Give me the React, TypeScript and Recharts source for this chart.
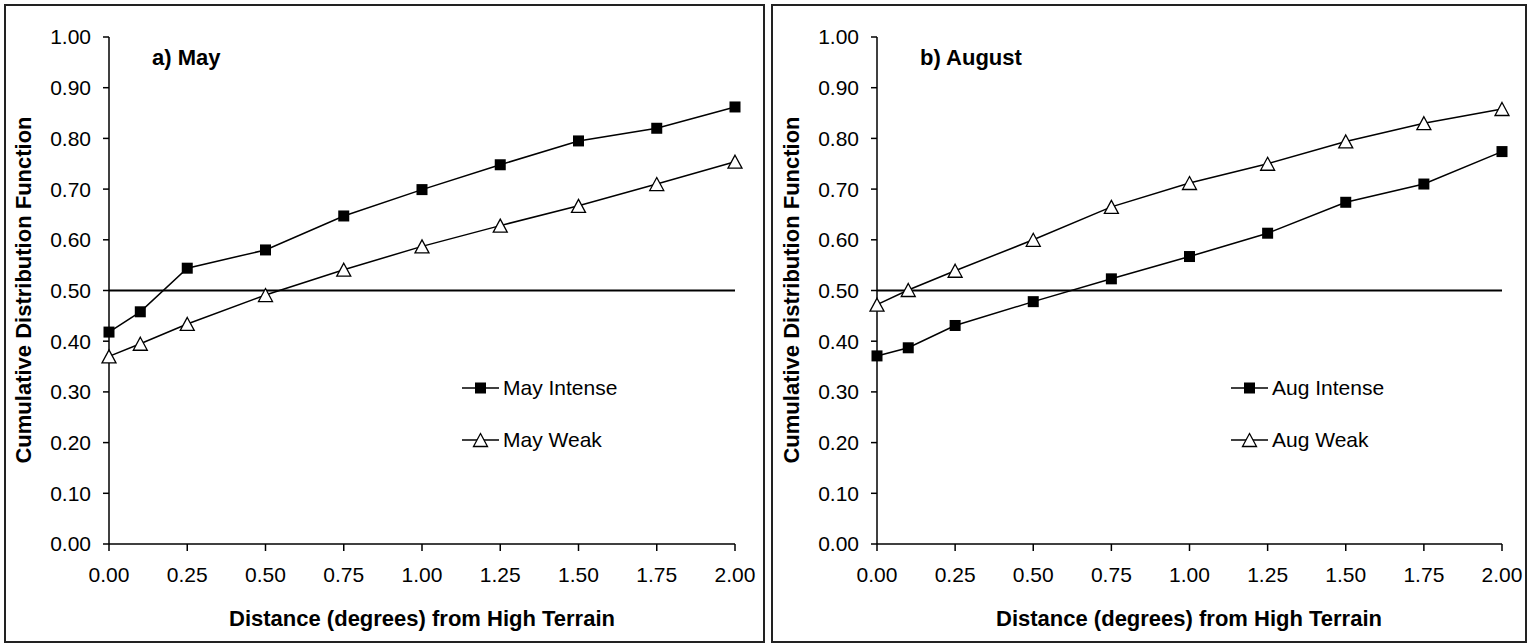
import { LineChart, Line, XAxis, YAxis, ReferenceLine, Legend } from 'recharts'

// distance from high terrain (degrees)
const distance = [0, 0.1, 0.25, 0.5, 0.75, 1.0, 1.25, 1.5, 1.75, 2.0]

const mayIntense = [0.418, 0.458, 0.544, 0.58, 0.647, 0.699, 0.748, 0.795, 0.82, 0.862]
const mayWeak = [0.37, 0.395, 0.434, 0.491, 0.541, 0.587, 0.628, 0.667, 0.71, 0.754]
const augIntense = [0.371, 0.387, 0.431, 0.478, 0.523, 0.567, 0.613, 0.674, 0.71, 0.774]
const augWeak = [0.472, 0.501, 0.539, 0.6, 0.665, 0.712, 0.75, 0.794, 0.83, 0.858]

const xTicks = [0, 0.25, 0.5, 0.75, 1, 1.25, 1.5, 1.75, 2]
const yTicks = [0, 0.1, 0.2, 0.3, 0.4, 0.5, 0.6, 0.7, 0.8, 0.9, 1]

const FONT = '"Liberation Sans", Arial, sans-serif'

function Square(props: any) {
  const { cx, cy, index } = props
  if (cx == null || cy == null) return <g key={`s${index}`} />
  return <rect key={`s${index}`} x={cx - 5.5} y={cy - 5.5} width={11} height={11} fill="#000" />
}

function Triangle(props: any) {
  const { cx, cy, index } = props
  if (cx == null || cy == null) return <g key={`t${index}`} />
  return (
    <polygon
      key={`t${index}`}
      points={`${cx},${cy - 6.5} ${cx + 7},${cy + 6.5} ${cx - 7},${cy + 6.5}`}
      fill="#fff"
      stroke="#000"
      strokeWidth={1.3}
    />
  )
}

function LegendBox({ payload }: any) {
  return (
    <svg width={200} height={70} style={{ overflow: 'visible', display: 'block' }}>
      {(payload || []).map((p: any, i: number) => {
        const cy = 11 + i * 52
        return (
          <g key={p.value}>
            <line x1={0} x2={37} y1={cy} y2={cy} stroke="#000" strokeWidth={1.5} />
            {p.dataKey === 'intense' ? <Square cx={18.5} cy={cy} index={i} /> : <Triangle cx={18.5} cy={cy} index={i} />}
            <text x={41} y={cy} dy="0.355em" fontSize={21} fontFamily={FONT} fill="#000">
              {p.value}
            </text>
          </g>
        )
      })}
    </svg>
  )
}

function Panel({ left, marginLeft, marginRight, width, intense, weak, intenseName, weakName, legendLeft }: any) {
  const data = distance.map((x, i) => ({ x, intense: intense[i], weak: weak[i] }))
  const tick = { fill: '#000', fontSize: 21, fontFamily: FONT }
  return (
    <div style={{ position: 'absolute', left, top: 4 }}>
      <LineChart
        width={width}
        height={639}
        data={data}
        margin={{ top: 33, right: marginRight, left: marginLeft, bottom: 39 }}
      >
        <XAxis
          dataKey="x"
          type="number"
          domain={[0, 2]}
          ticks={xTicks}
          interval={0}
          tickFormatter={(v: number) => v.toFixed(2)}
          tick={tick}
          tickSize={7}
          tickMargin={16}
          height={60}
          stroke="#000"
          strokeWidth={1.5}
        />
        <YAxis
          type="number"
          domain={[0, 1]}
          ticks={yTicks}
          interval={0}
          tickFormatter={(v: number) => v.toFixed(2)}
          tick={tick}
          tickSize={6}
          tickMargin={12}
          width={80}
          stroke="#000"
          strokeWidth={1.5}
        />
        <ReferenceLine y={0.5} stroke="#000" strokeWidth={2} ifOverflow="visible" />
        <Line
          dataKey="intense"
          name={intenseName}
          stroke="#000"
          strokeWidth={1.5}
          dot={(p: any) => <Square {...p} />}
          activeDot={false}
          isAnimationActive={false}
        />
        <Line
          dataKey="weak"
          name={weakName}
          stroke="#000"
          strokeWidth={1.5}
          dot={(p: any) => <Triangle {...p} />}
          activeDot={false}
          isAnimationActive={false}
        />
        <Legend
          layout="vertical"
          align="center"
          verticalAlign="middle"
          wrapperStyle={{ left: legendLeft, top: 373, width: 200, height: 70 }}
          content={(p: any) => <LegendBox {...p} />}
        />
      </LineChart>
    </div>
  )
}

export default function App() {
  const frame = { position: 'absolute' as const, top: 4, height: 639, border: '2px solid #222', boxSizing: 'border-box' as const }
  return (
    <div style={{ position: 'absolute', left: 0, top: 0, width: 1536, height: 643, background: '#fff', overflow: 'hidden' }}>
      <div style={{ ...frame, left: 4, width: 761 }} />
      <div style={{ ...frame, left: 771, width: 756 }} />
      <Panel
        left={4}
        width={760}
        marginLeft={25}
        marginRight={29}
        intense={mayIntense}
        weak={mayWeak}
        intenseName="May Intense"
        weakName="May Weak"
        legendLeft={458}
      />
      <Panel
        left={771}
        width={756}
        marginLeft={26}
        marginRight={25}
        intense={augIntense}
        weak={augWeak}
        intenseName="Aug Intense"
        weakName="Aug Weak"
        legendLeft={460}
      />
      <svg width={1536} height={643} style={{ position: 'absolute', left: 0, top: 0, pointerEvents: 'none' }}>
        <g fontFamily={FONT} fontWeight="bold" fontSize={22} fill="#000">
          <text x={152} y={65}>a) May</text>
          <text x={920} y={65}>b) August</text>
          <text x={422} y={626} textAnchor="middle">Distance (degrees) from High Terrain</text>
          <text x={1189} y={626} textAnchor="middle">Distance (degrees) from High Terrain</text>
          <text transform="translate(31,290) rotate(-90)" textAnchor="middle">Cumulative Distribution Function</text>
          <text transform="translate(799,290) rotate(-90)" textAnchor="middle">Cumulative Distribution Function</text>
        </g>
      </svg>
    </div>
  )
}
